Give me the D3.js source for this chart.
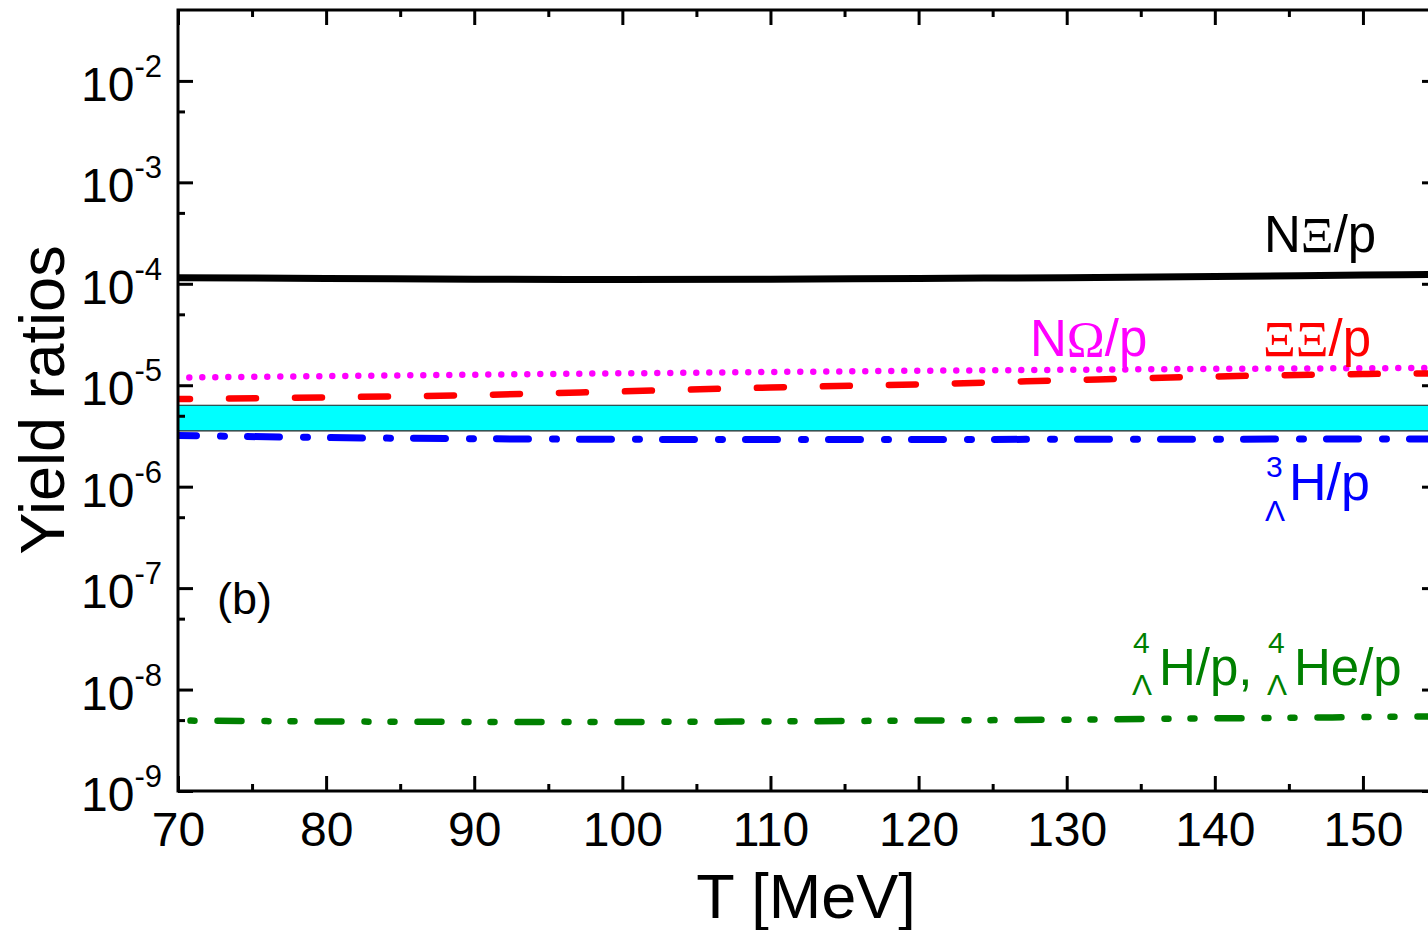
<!DOCTYPE html>
<html><head><meta charset="utf-8">
<script src="https://cdn.jsdelivr.net/npm/d3@7"></script>
<style>
body{margin:0;background:#fff;overflow:hidden}
svg{display:block}
text{font-family:Arial,"Liberation Sans",sans-serif}
</style>
</head><body>
<svg id="c" width="1428" height="930"></svg>
<script>
// ---- data ----
const T = [70, 80, 90, 100, 110, 120, 130, 140, 150, 155];
const NXi_p    = [1.15e-4, 1.13e-4, 1.11e-4, 1.10e-4, 1.11e-4, 1.13e-4, 1.15e-4, 1.18e-4, 1.22e-4, 1.24e-4];
const NOmega_p = [1.19e-5, 1.23e-5, 1.27e-5, 1.31e-5, 1.35e-5, 1.39e-5, 1.42e-5, 1.45e-5, 1.47e-5, 1.48e-5];
const XiXi_p   = [7.3e-6, 7.6e-6, 8.0e-6, 8.7e-6, 9.5e-6, 1.02e-5, 1.12e-5, 1.22e-5, 1.29e-5, 1.31e-5];
const H3L_p    = [3.2e-6, 3.05e-6, 2.97e-6, 2.93e-6, 2.92e-6, 2.92e-6, 2.93e-6, 2.94e-6, 2.95e-6, 2.96e-6];
const H4L_p    = [4.95e-9, 4.85e-9, 4.8e-9, 4.8e-9, 4.85e-9, 4.95e-9, 5.05e-9, 5.2e-9, 5.35e-9, 5.45e-9];
const bandLow = 3.55e-6, bandHigh = 6.35e-6;
const xMajor = [70, 80, 90, 100, 110, 120, 130, 140, 150];
const xMinor = [75, 85, 95, 105, 115, 125, 135, 145, 155];
const yExponents = [-9, -8, -7, -6, -5, -4, -3, -2];
const yMinor = [5e-9, 5e-8, 5e-7, 5e-6, 5e-5, 5e-4, 5e-3];

// ---- layout ----
const L = 178, R = 1437, TOP = 10, BOT = 791;
const svg = d3.select("#c");
const x = d3.scaleLinear().domain([70, 155]).range([L, R]);
const y = d3.scaleLog().domain([1e-9, 0.05]).range([BOT, TOP]);

svg.append("defs").append("clipPath").attr("id", "clip")
  .append("rect").attr("x", L).attr("y", TOP).attr("width", R - L).attr("height", BOT - TOP);
const plot = svg.append("g").attr("clip-path", "url(#clip)");

// band
const area = d3.area().x(d => x(d)).y0(y(bandLow)).y1(y(bandHigh));
plot.append("path").datum(T).attr("d", area)
  .attr("fill", "#00ffff").attr("stroke", "none");
[bandLow, bandHigh].forEach(v => {
  plot.append("path").datum(T)
    .attr("d", d3.line().x(d => x(d)).y(() => y(v)))
    .attr("stroke", "#222").attr("stroke-width", 1.2).attr("fill", "none");
});

const line = d3.line().x((d, i) => x(T[i])).y(d => y(d)).curve(d3.curveMonotoneX);
const series = [
  {v: NXi_p, color: "#000000", w: 7, dash: null, off: 0, cap: "butt"},
  {v: NOmega_p, color: "#ff00ff", w: 6.5, dash: "0,13", off: 1.7, cap: "round"},
  {v: XiXi_p, color: "#ff0000", w: 6.5, dash: "27,39", off: 15, cap: "round"},
  {v: H3L_p, color: "#0000ff", w: 7, dash: "32,24,4,23", off: 13.5, cap: "round"},
  {v: H4L_p, color: "#008000", w: 6.5, dash: "24,23,4,22,4,23", off: 60.5, cap: "round"}
];
series.forEach(s => {
  plot.append("path").datum(s.v).attr("d", line)
    .attr("fill", "none").attr("stroke", s.color).attr("stroke-width", s.w)
    .attr("stroke-linecap", s.cap)
    .attr("stroke-dasharray", s.dash).attr("stroke-dashoffset", s.off);
});

// ---- axes ----
const tickStyle = g => g.selectAll("line").attr("stroke", "#000").attr("stroke-width", 3);
// bottom
const gb = svg.append("g").attr("transform", `translate(0,${BOT})`)
  .call(d3.axisBottom(x).tickValues(xMajor).tickSize(-15).tickPadding(21).tickFormat(d3.format("d")));
gb.select(".domain").remove();
gb.selectAll("text").attr("font-size", 48).attr("fill", "#000").attr("font-family", "Arial, 'Liberation Sans', sans-serif");
tickStyle(gb);
const gbm = svg.append("g").attr("transform", `translate(0,${BOT})`)
  .call(d3.axisBottom(x).tickValues(xMinor).tickSize(-7).tickFormat(""));
gbm.select(".domain").remove(); tickStyle(gbm);
// top
const gt = svg.append("g").attr("transform", `translate(0,${TOP})`)
  .call(d3.axisTop(x).tickValues(xMajor).tickSize(-15).tickFormat(""));
gt.select(".domain").remove(); tickStyle(gt);
const gtm = svg.append("g").attr("transform", `translate(0,${TOP})`)
  .call(d3.axisTop(x).tickValues(xMinor).tickSize(-7).tickFormat(""));
gtm.select(".domain").remove(); tickStyle(gtm);
// left
const yMajorVals = yExponents.map(e => Math.pow(10, e));
const gl = svg.append("g").attr("transform", `translate(${L},0)`)
  .call(d3.axisLeft(y).tickValues(yMajorVals).tickSize(-15).tickFormat(""));
gl.select(".domain").remove(); tickStyle(gl);
gl.selectAll(".tick").each(function(d, i) {
  const t = d3.select(this).append("text")
    .attr("x", -16).attr("y", 19.5).attr("text-anchor", "end")
    .attr("fill", "#000").attr("font-size", 48);
  t.append("tspan").text("10");
  t.append("tspan").attr("dy", -24).attr("font-size", 31).text(yExponents[i]);
});
const glm = svg.append("g").attr("transform", `translate(${L},0)`)
  .call(d3.axisLeft(y).tickValues(yMinor).tickSize(-7).tickFormat(""));
glm.select(".domain").remove(); tickStyle(glm);
// right
const gr = svg.append("g").attr("transform", `translate(${R},0)`)
  .call(d3.axisRight(y).tickValues(yMajorVals).tickSize(-15).tickFormat(""));
gr.select(".domain").remove(); tickStyle(gr);
const grm = svg.append("g").attr("transform", `translate(${R},0)`)
  .call(d3.axisRight(y).tickValues(yMinor).tickSize(-7).tickFormat(""));
grm.select(".domain").remove(); tickStyle(grm);

// frame
svg.append("rect").attr("x", L).attr("y", TOP).attr("width", R - L).attr("height", BOT - TOP)
  .attr("fill", "none").attr("stroke", "#000").attr("stroke-width", 3);

// axis titles
svg.append("text").attr("x", 806).attr("y", 918).attr("text-anchor", "middle")
  .attr("font-size", 63).attr("fill", "#000").text("T [MeV]");
svg.append("text").attr("transform", "translate(64,400) rotate(-90)").attr("text-anchor", "middle")
  .attr("font-size", 63).attr("fill", "#000").text("Yield ratios");

// labels
const serif = "'Liberation Serif','DejaVu Serif',serif";
function label(xp, yp, parts, color, size) {
  const t = svg.append("text").attr("x", xp).attr("y", yp).attr("fill", color).attr("font-size", size);
  parts.forEach(p => {
    const s = t.append("tspan").text(p.t);
    if (p.serif) s.attr("font-family", serif);
  });
  return t;
}
label(1264, 252, [{t: "N"}, {t: "Ξ", serif: true}, {t: "/p"}], "#000", 51);
label(1030, 356, [{t: "N"}, {t: "Ω", serif: true}, {t: "/p"}], "#ff00ff", 51);
label(1263, 356, [{t: "ΞΞ", serif: true}, {t: "/p"}], "#ff0000", 51);
// hypertriton
svg.append("text").attr("x", 1266).attr("y", 477).attr("fill", "#0000ff").attr("font-size", 30).text("3");
svg.append("text").attr("x", 1265).attr("y", 521).attr("fill", "#0000ff").attr("font-size", 30)
  .attr("font-family", serif).text("Λ");
svg.append("text").attr("x", 1289).attr("y", 500).attr("fill", "#0000ff").attr("font-size", 52).text("H/p");
// A=4 hypernuclei
const gcol = "#008000";
svg.append("text").attr("x", 1133).attr("y", 653).attr("fill", gcol).attr("font-size", 30).text("4");
svg.append("text").attr("x", 1132).attr("y", 695).attr("fill", gcol).attr("font-size", 30)
  .attr("font-family", serif).text("Λ");
svg.append("text").attr("x", 1159).attr("y", 685).attr("fill", gcol).attr("font-size", 51).text("H/p,");
svg.append("text").attr("x", 1268).attr("y", 653).attr("fill", gcol).attr("font-size", 30).text("4");
svg.append("text").attr("x", 1267).attr("y", 695).attr("fill", gcol).attr("font-size", 30)
  .attr("font-family", serif).text("Λ");
svg.append("text").attr("x", 1294).attr("y", 685).attr("fill", gcol).attr("font-size", 51).text("He/p");

svg.append("text").attr("x", 217).attr("y", 614).attr("fill", "#000").attr("font-size", 45).text("(b)");
</script>
</body></html>
